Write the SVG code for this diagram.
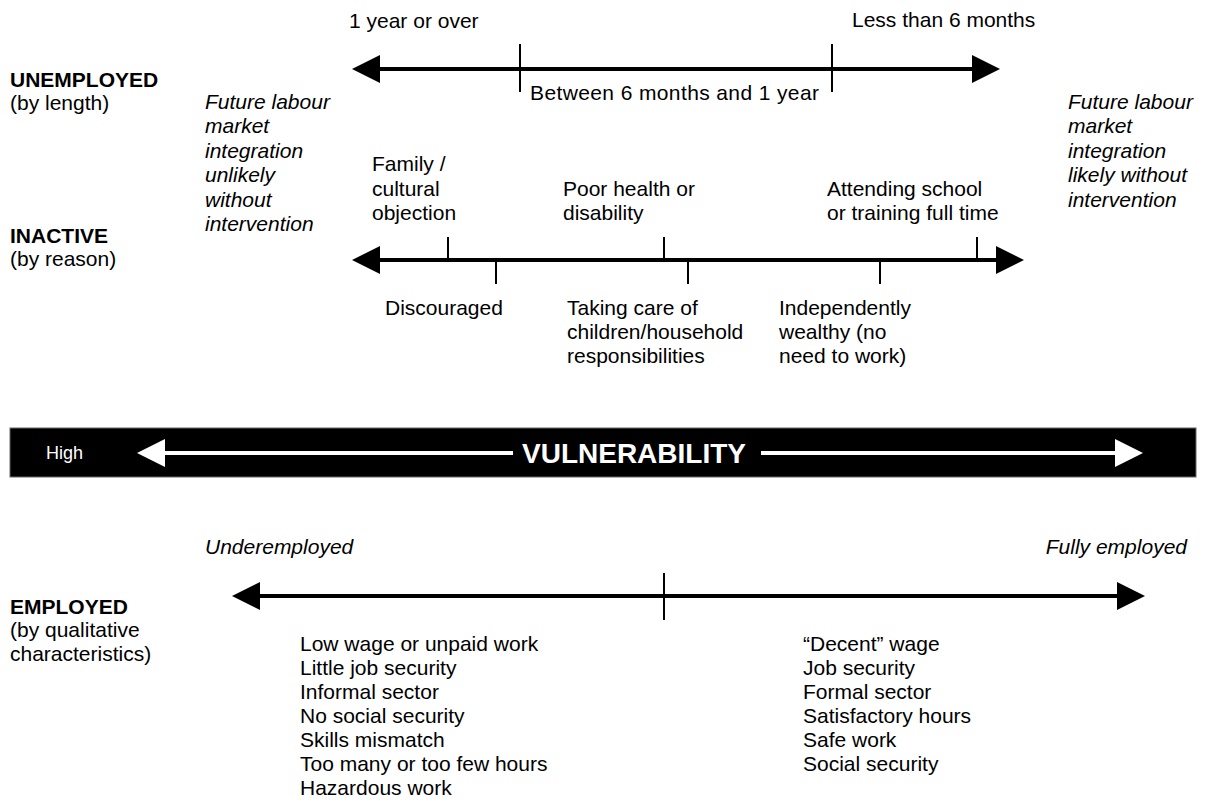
<svg xmlns="http://www.w3.org/2000/svg" width="1206" height="803" viewBox="0 0 1206 803">
<style>
text{font-family:"Liberation Sans",Arial,sans-serif;font-size:21px;fill:#000}
.b{font-weight:bold}
.i{font-style:italic}
.w{fill:#fff}
.axis{stroke:#000;stroke-width:4;fill:none}
.tick{stroke:#000;stroke-width:2;fill:none}
.waxis{stroke:#fff;stroke-width:4;fill:none}
</style>
<defs>
<marker id="ah" markerUnits="userSpaceOnUse" markerWidth="28" markerHeight="28" viewBox="0 0 28 28" refX="0" refY="14" orient="auto-start-reverse"><path d="M0,0 L28,14 L0,28 Z" fill="#000"/></marker>
<marker id="wah" markerUnits="userSpaceOnUse" markerWidth="28" markerHeight="28" viewBox="0 0 28 28" refX="0" refY="14" orient="auto-start-reverse"><path d="M0,0 L28,14 L0,28 Z" fill="#fff"/></marker>
</defs>
<rect width="1206" height="803" fill="#fff"/>
<g id="vulnerability-bar">
<rect x="10" y="428" width="1186" height="49" fill="#000" stroke="#666" stroke-width="1"/>
<text class="w" x="46" y="459" style="font-size:18px">High</text>
<text class="w b" x="634" y="463" text-anchor="middle" style="font-size:28px">VULNERABILITY</text>
</g>
<g id="connectors">
<line class="axis" x1="380" y1="69" x2="972" y2="69" marker-start="url(#ah)" marker-end="url(#ah)"/>
<line class="tick" x1="520" y1="44" x2="520" y2="92"/>
<line class="tick" x1="832" y1="44" x2="832" y2="92"/>
<line class="axis" x1="380" y1="260" x2="996" y2="260" marker-start="url(#ah)" marker-end="url(#ah)"/>
<line class="tick" x1="448" y1="237" x2="448" y2="260"/>
<line class="tick" x1="664" y1="237" x2="664" y2="260"/>
<line class="tick" x1="977" y1="237" x2="977" y2="260"/>
<line class="tick" x1="496" y1="260" x2="496" y2="284"/>
<line class="tick" x1="688" y1="260" x2="688" y2="284"/>
<line class="tick" x1="880" y1="260" x2="880" y2="284"/>
<line class="axis" x1="260" y1="596" x2="1117" y2="596" marker-start="url(#ah)" marker-end="url(#ah)"/>
<line class="tick" x1="664" y1="573" x2="664" y2="620"/>
<line class="waxis" x1="165" y1="453" x2="513" y2="453" marker-start="url(#wah)"/>
<line class="waxis" x1="761" y1="453" x2="1115" y2="453" marker-end="url(#wah)"/>
</g>
<g id="unemployed-label"><text class="b" x="10" y="87">UNEMPLOYED</text><text x="10" y="110">(by length)</text></g>
<g id="inactive-label"><text class="b" x="10" y="243">INACTIVE</text><text x="10" y="266">(by reason)</text></g>
<g id="employed-label"><text class="b" x="10" y="614">EMPLOYED</text><text x="10" y="637">(by qualitative</text><text x="10" y="661">characteristics)</text></g>
<g id="unlikely-note"><text class="i" x="205" y="109">Future labour</text><text class="i" x="205" y="133">market</text><text class="i" x="205" y="158">integration</text><text class="i" x="205" y="182">unlikely</text><text class="i" x="205" y="207">without</text><text class="i" x="205" y="231">intervention</text></g>
<g id="likely-note"><text class="i" x="1068" y="109">Future labour</text><text class="i" x="1068" y="133">market</text><text class="i" x="1068" y="158">integration</text><text class="i" x="1068" y="182">likely without</text><text class="i" x="1068" y="207">intervention</text></g>
<g id="one-year"><text x="349" y="28">1 year or over</text></g>
<g id="less-six"><text x="852" y="27">Less than 6 months</text></g>
<g id="between"><text x="530" y="100" textLength="289">Between 6 months and 1 year</text></g>
<g id="family"><text x="372" y="171">Family /</text><text x="372" y="196">cultural</text><text x="372" y="220">objection</text></g>
<g id="health"><text x="563" y="196">Poor health or</text><text x="563" y="220">disability</text></g>
<g id="school"><text x="827" y="196">Attending school</text><text x="827" y="220">or training full time</text></g>
<g id="discouraged"><text x="385" y="315">Discouraged</text></g>
<g id="care"><text x="567" y="315">Taking care of</text><text x="567" y="339">children/household</text><text x="567" y="363">responsibilities</text></g>
<g id="wealthy"><text x="779" y="315">Independently</text><text x="779" y="339">wealthy (no</text><text x="779" y="363">need to work)</text></g>
<g id="underemployed"><text class="i" x="205" y="554">Underemployed</text></g>
<g id="fully-employed"><text class="i" x="1187" y="554" text-anchor="end">Fully employed</text></g>
<g id="under-list"><text x="300" y="651">Low wage or unpaid work</text><text x="300" y="675">Little job security</text><text x="300" y="699">Informal sector</text><text x="300" y="723">No social security</text><text x="300" y="747">Skills mismatch</text><text x="300" y="771">Too many or too few hours</text><text x="300" y="795">Hazardous work</text></g>
<g id="full-list"><text x="803" y="651">“Decent” wage</text><text x="803" y="675">Job security</text><text x="803" y="699">Formal sector</text><text x="803" y="723">Satisfactory hours</text><text x="803" y="747">Safe work</text><text x="803" y="771">Social security</text></g>
</svg>
